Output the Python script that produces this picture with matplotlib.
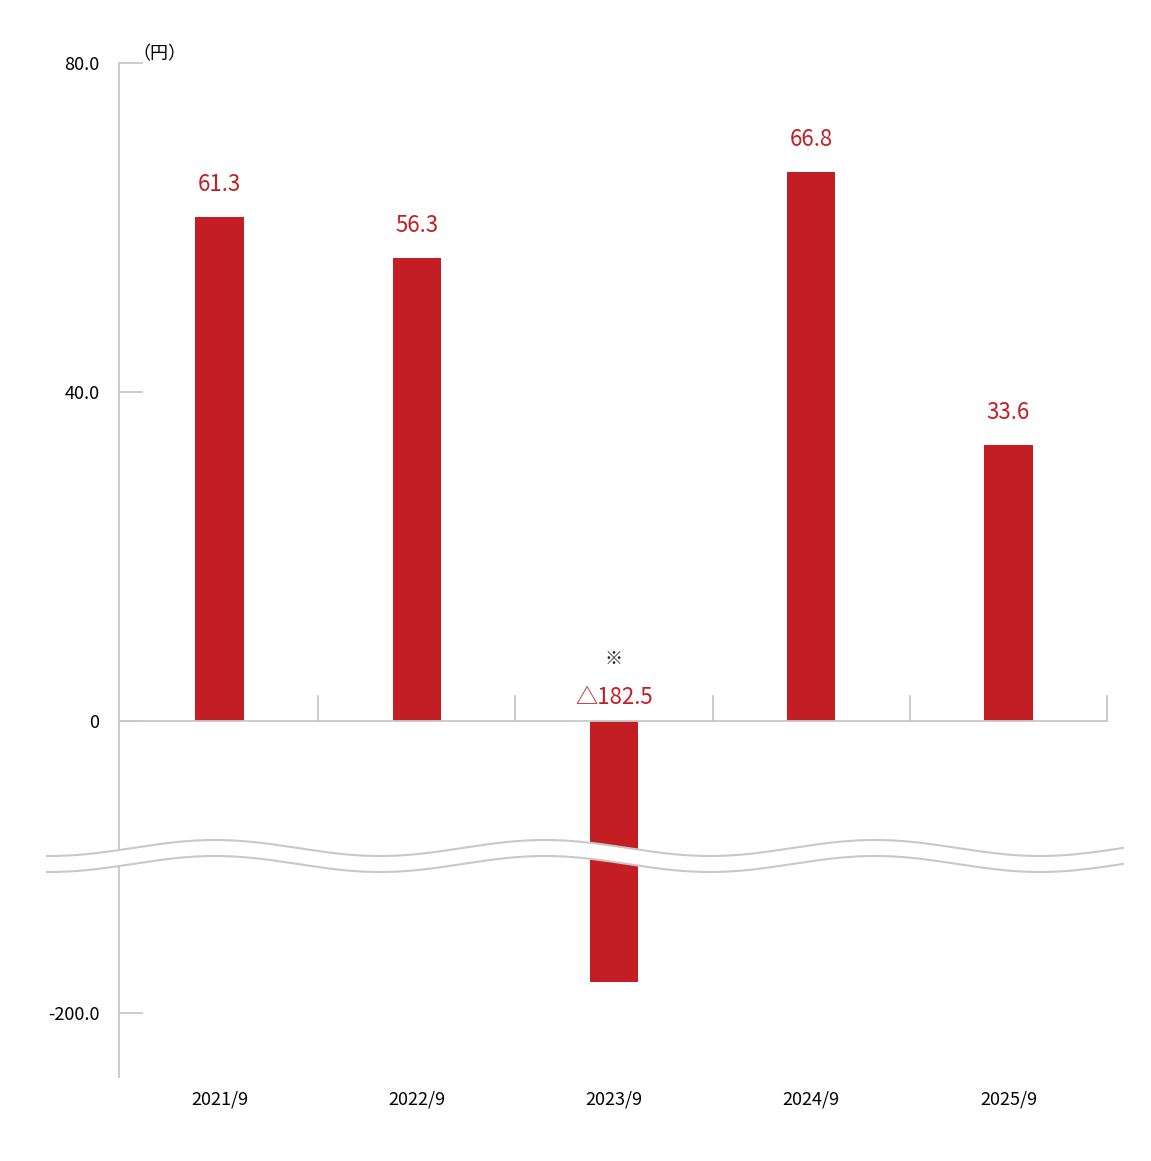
import numpy as np
import matplotlib.pyplot as plt
from matplotlib.lines import Line2D
from matplotlib.patches import Polygon

plt.rcParams['font.family'] = ['Noto Sans CJK JP', 'DejaVu Sans']

years = ['2021/9', '2022/9', '2023/9', '2024/9', '2025/9']
values = [61.3, 56.3, -182.5, 66.8, 33.6]
labels = ['61.3', '56.3', '△182.5', '66.8', '33.6']
yticks = [80, 40, 0, -200]
yticklabels = ['80.0', '40.0', '0', '-200.0']

red = '#c41e25'
gray = '#c8c8c8'

# piecewise scale: positive part stretched, negative part compressed with a gap
def fwd(v):
    v = np.asarray(v, dtype=float)
    return np.where(v >= 0, v * 8.225, -292 + (v + 200) * 1.771)

def inv(p):
    p = np.asarray(p, dtype=float)
    return np.where(p >= 0, p / 8.225, (p + 292) / 1.771 - 200)

W, H = 1151, 1161
fig = plt.figure(figsize=(W / 100, H / 100), dpi=100)
ax = fig.add_axes([119 / W, (H - 1077) / H, (1107 - 119) / W, (1077 - 63) / H])
ax.set_yscale('function', functions=(fwd, inv))
ax.set_ylim(-236, 80)
ax.set_xlim(-0.51, 4.5)

x = np.arange(len(years))
ax.bar(x, values, width=0.245, color=red, zorder=2)

for xi, v, lab in zip(x, values, labels):
    if v >= 0:
        ax.text(xi, v + 2.5, lab, ha='center', va='bottom', color=red, fontsize=16)
    else:
        ax.text(xi, 1.5, lab, ha='center', va='bottom', color=red, fontsize=16)
        ax.text(xi, 6.5, '※', ha='center', va='bottom', color='#222222', fontsize=13)

for s in ['top', 'right', 'bottom']:
    ax.spines[s].set_visible(False)
ax.spines['left'].set_color(gray)
ax.spines['left'].set_linewidth(1.3)
ax.axhline(0, color=gray, lw=1.3, zorder=3)
for b in np.arange(0.5, 5, 1):
    ax.plot([b, b], [0, 3], color=gray, lw=1.3, clip_on=False)

ax.set_yticks(yticks)
ax.set_yticklabels(yticklabels, fontsize=13)
ax.tick_params(axis='y', direction='in', length=17, color=gray, width=1.3, pad=14)
ax.yaxis.set_tick_params(which='minor', length=0)
ax.set_xticks(x)
ax.set_xticklabels(years, fontsize=13)
ax.tick_params(axis='x', length=0, pad=10)
ax.text(-0.44, 80, '（円）', transform=ax.transData, fontsize=13, va='bottom', ha='left')

# wavy break band in figure pixel coordinates
xs = np.linspace(47, 1123, 600)
wave = 8 * np.cos(2 * np.pi * (xs - 215) / 330)
y1 = H - (848 - wave)
y2 = H - (864 - wave)
poly = np.column_stack([np.r_[xs, xs[::-1]], np.r_[y1, y2[::-1]]]) / [W, H]
fig.patches.append(Polygon(poly, closed=True, transform=fig.transFigure,
                           facecolor='white', edgecolor='none', zorder=5))
for yy in (y1, y2):
    fig.lines.append(Line2D(xs / W, yy / H, transform=fig.transFigure,
                            color=gray, lw=1.5, zorder=6))

fig.savefig('out.png', dpi=100)
